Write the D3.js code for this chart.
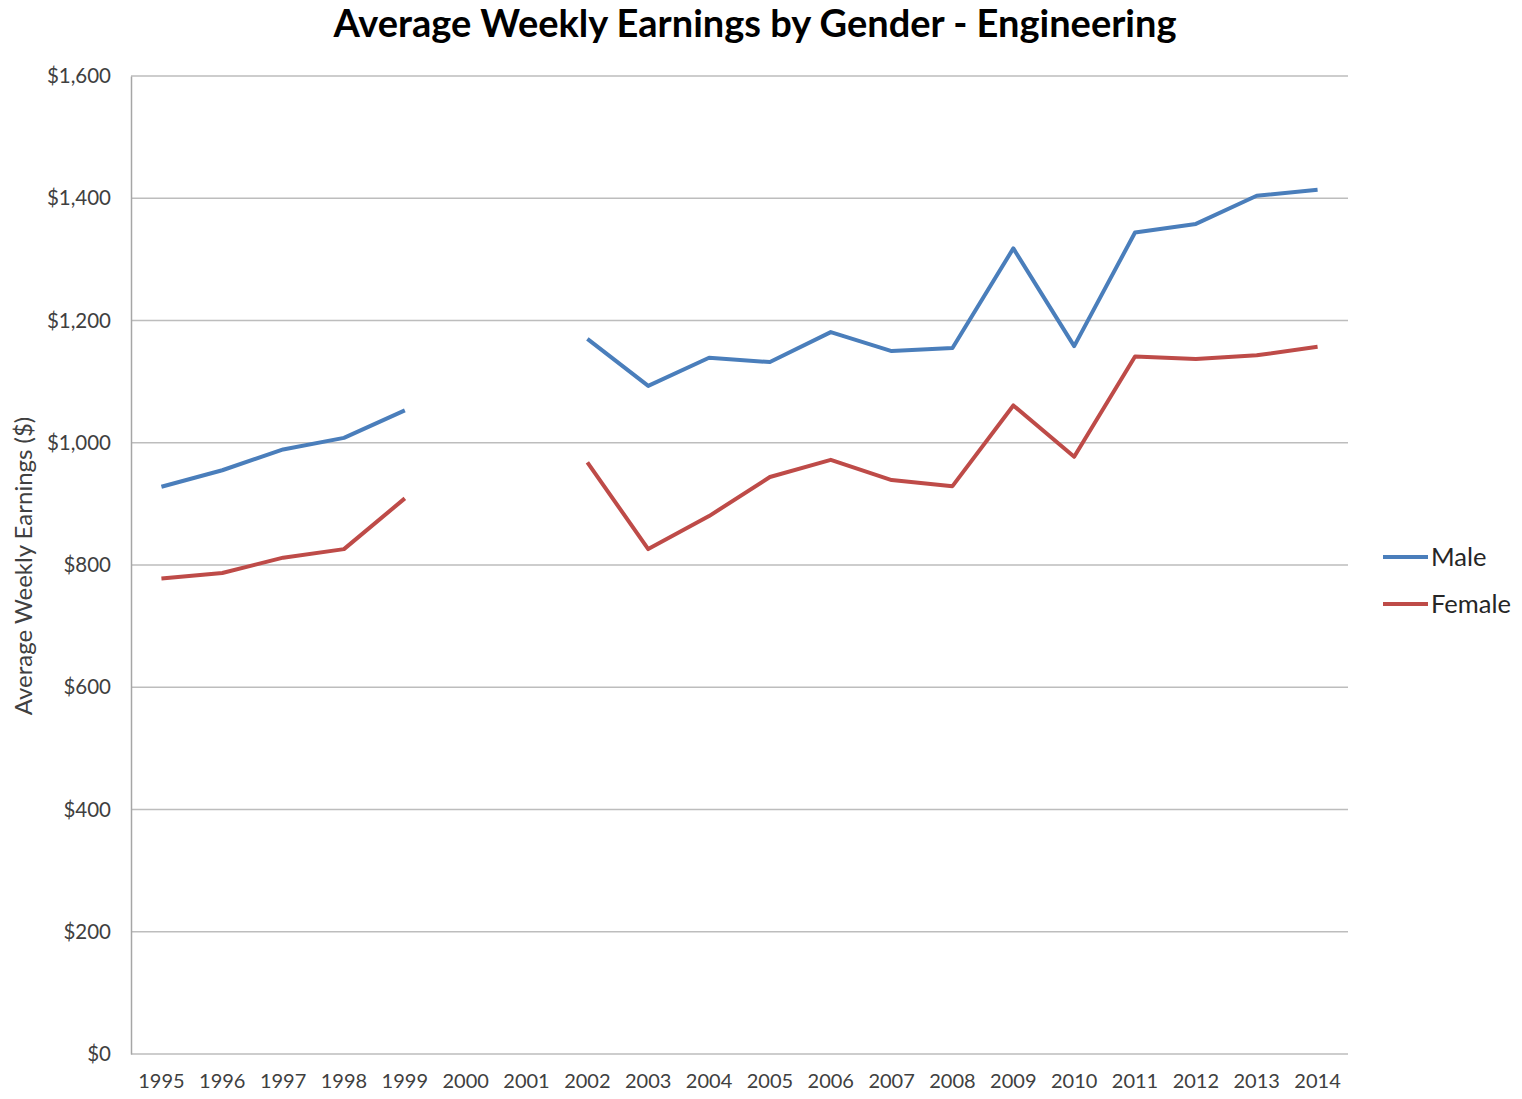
<!DOCTYPE html>
<html>
<head>
<meta charset="utf-8">
<title>Average Weekly Earnings by Gender - Engineering</title>
<script src="https://cdnjs.cloudflare.com/ajax/libs/d3/7.8.5/d3.min.js"></script>
<style>
body { margin: 0; background: #fff; }
#chart text { font-family: Lato, "Open Sans", sans-serif; }
</style>
</head>
<body>
<div id="chart"></div>
<script>
// data, 2000 and 2001 are missing
const years = ["1995","1996","1997","1998","1999","2000","2001","2002","2003","2004",
               "2005","2006","2007","2008","2009","2010","2011","2012","2013","2014"];
const maleValues = [928, 955, 989, 1008, 1053, null, null, 1170, 1093, 1139,
                    1132, 1181, 1150, 1155, 1318, 1158, 1344, 1358, 1404, 1414];
const femaleValues = [778, 787, 812, 826, 909, null, null, 968, 826, 880,
                      944, 972, 939, 929, 1061, 977, 1141, 1137, 1143, 1157];
const yTicks = [0, 200, 400, 600, 800, 1000, 1200, 1400, 1600];
const seriesNames = ["Male", "Female"];

const W = 1522, H = 1099;
const margin = { top: 76, right: 174, bottom: 45, left: 131 };
const width = W - margin.left - margin.right;
const height = H - margin.top - margin.bottom;

const color = d3.scaleOrdinal().domain(seriesNames).range(["#4a7ebb", "#be4b48"]);

const svg = d3.select("#chart").append("svg")
    .attr("width", W).attr("height", H);
const g = svg.append("g").attr("transform", "translate(" + margin.left + "," + margin.top + ")");

const x = d3.scaleBand().domain(years).range([0, width]);
const y = d3.scaleLinear().domain([0, 1600]).range([height, 0]);

// gridlines
g.append("g")
  .selectAll("line")
  .data(yTicks)
  .enter().append("line")
  .attr("x1", 0).attr("x2", width)
  .attr("y1", d => y(d)).attr("y2", d => y(d))
  .attr("stroke", "#bdbdbd").attr("stroke-width", 1.5);

// y axis
const yAxis = g.append("g")
  .call(d3.axisLeft(y).tickValues(yTicks).tickSize(0).tickPadding(20)
        .tickFormat(d => "$" + d3.format(",")(d)));
yAxis.select(".domain").attr("stroke", "#a6a6a6").attr("stroke-width", 1.5);
yAxis.selectAll("text").style("font-size", "20.5px").attr("fill", "#404040");

// x axis
const xAxis = g.append("g")
  .attr("transform", "translate(0," + height + ")")
  .call(d3.axisBottom(x).tickSize(0).tickPadding(20));
xAxis.select(".domain").remove();
xAxis.selectAll("text").style("font-size", "20px").attr("fill", "#404040");

// lines
const line = d3.line()
  .defined(d => d.v != null)
  .x(d => x(d.year) + x.bandwidth() / 2)
  .y(d => y(d.v));

const series = [
  { name: "Male", values: maleValues },
  { name: "Female", values: femaleValues }
];

series.forEach(function(s) {
  const pts = years.map((yr, i) => ({ year: yr, v: s.values[i] }));
  g.append("path")
    .datum(pts)
    .attr("fill", "none")
    .attr("stroke", color(s.name))
    .attr("stroke-width", 4)
    .attr("stroke-linejoin", "round")
    .attr("d", line);
});

// legend
const legend = svg.append("g").attr("transform", "translate(1383,557)");
seriesNames.forEach(function(name, i) {
  const row = legend.append("g").attr("transform", "translate(0," + (i * 47) + ")");
  row.append("line").attr("x1", 0).attr("x2", 45).attr("y1", 0).attr("y2", 0)
     .attr("stroke", color(name)).attr("stroke-width", 4);
  row.append("text").attr("x", 48).attr("y", 9)
     .style("font-size", "25.5px").attr("fill", "#262626").text(name);
});

// title
svg.append("text")
  .attr("x", 755).attr("y", 37)
  .attr("text-anchor", "middle")
  .style("font-size", "38px").style("font-weight", "bold")
  .attr("fill", "#000")
  .text("Average Weekly Earnings by Gender - Engineering");

// y axis title
svg.append("text")
  .attr("transform", "translate(32," + 566 + ") rotate(-90)")
  .attr("text-anchor", "middle")
  .style("font-size", "24px")
  .attr("fill", "#404040")
  .text("Average Weekly Earnings ($)");
</script>
</body>
</html>
